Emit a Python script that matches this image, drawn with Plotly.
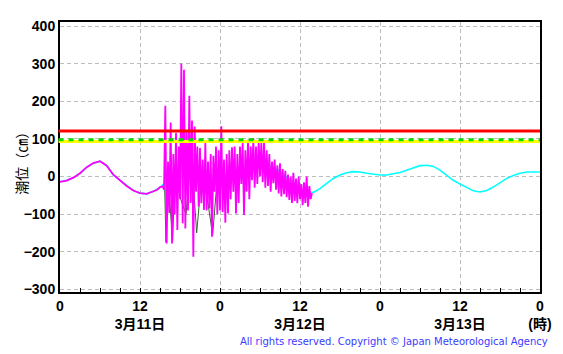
import numpy as np
import plotly.graph_objects as go

# ---- data ----
# predicted (astronomical) tide, hours from 3/11 00:00, cm
tide_hours = list(range(0, 73))
tide_cm = [-14, -10, -3, 8, 24, 35, 41, 30, 4, -10, -25, -37, -44, -46, -40, -29,
           -12, 5, 15, 20, 21, 17, 7, 1, 0, 2, 8, 14, 20, 28, 34, 32, 24, 13, -3,
           -18, -32, -41, -42, -32, -18, -5, 4, 10, 13, 12, 9, 6, 4, 4, 7, 11, 17,
           24, 29, 30, 27, 17, 3, -10, -20, -30, -38, -41, -37, -28, -16, -5, 3, 9,
           12, 12, 12]

# observed before the tsunami arrival
obs_pre_hours = [0, 1, 2, 3, 4, 5, 6, 7, 8, 9, 10, 11, 12, 13, 14, 14.6, 15, 15.4]
obs_pre_cm = [-14, -11, -3, 9, 25, 36, 41, 29, 5, -10, -25, -37, -44, -46, -39, -35, -28, -26]

# observed during tsunami, sampled every 0.2 h from 15.6 h
obs_start, obs_step = 15.6, 0.2
obs_cm = [-35, 188, -178, 40, -97, 144, -178, 60, -100, 116,
          -142, 80, -60, 300, -124, 284, -138, 124, -90, 215,
          -70, 149, -213, 133, -40, 80, -80, 76, -71, 45,
          -89, 89, -90, 40, -85, 60, -160, 55, -40, 80,
          -100, 70, -90, 134, -95, 45, -123, 60, -98, 70,
          -60, 78, -40, 80, -98, 60, -70, 80, -20, 89,
          -102, 70, -40, 98, -60, 80, -10, 102, -30, 80,
          -20, 93, 0, 89, -15, 91, -30, 70, -25, 60,
          -40, 40, -18, 45, -35, 30, -45, 35, -53, 20,
          -47, 15, -55, 5, -62, 0, -70, 10, -65, -5,
          -71, 0, -60, -20, -76, -15, -70, 0, -80, -25,
          -60, -44]

# secondary (dark green) record, partly hidden beneath
sub_hours = [15.7, 15.9, 16.1, 16.5, 16.9, 17.3, 18.1, 18.9, 19.7, 20.5, 21.3, 22.1, 22.9, 23.7, 24.5]
sub_cm = [-30, -175, 20, -90, -170, 40, -60, -100, 60, -150, 10, -60, -155, 20, -40]

# threshold levels (cm)
red_level = 121
green_level = 98
yellow_level = 93

x_tickvals = [0, 12, 24, 36, 48, 60, 72]
x_ticktext = ["0", "12<br>3月11日", "0", "12<br>3月12日", "0", "12<br>3月13日", "0<br>(時)"]
y_tickvals = [-300, -200, -100, 0, 100, 200, 300, 400]

obs_hours = list(obs_pre_hours) + [obs_start + obs_step * i for i in range(len(obs_cm))]
obs_all = list(obs_pre_cm) + list(obs_cm)

fig = go.Figure()
fig.add_trace(go.Scatter(x=sub_hours, y=sub_cm, mode="lines",
                         line=dict(color="#2e6b2e", width=1), hoverinfo="skip"))
fig.add_trace(go.Scatter(x=tide_hours, y=tide_cm, mode="lines",
                         line=dict(color="#00ffff", width=1.6), hoverinfo="skip"))
fig.add_trace(go.Scatter(x=obs_hours, y=obs_all, mode="lines",
                         line=dict(color="#ff00ff", width=1.8), hoverinfo="skip"))

for lvl, col, dash in [(red_level, "#ff0000", "solid"),
                       (yellow_level, "#ffff00", "solid"),
                       (green_level, "#00dd00", "5px,5px")]:
    fig.add_shape(type="line", xref="paper", yref="y", x0=-0.003, x1=1, y0=lvl, y1=lvl,
                  line=dict(color=col, width=3, dash=dash), layer="above")

fig.add_annotation(text="All rights reserved. Copyright © Japan Meteorological Agency",
                   xref="paper", yref="paper", x=1.021, y=-0.1815,
                   xanchor="right", yanchor="middle", showarrow=False,
                   font=dict(family="DejaVu Sans", size=10, color="#3a3aff"))

# y-axis title as rotated annotation
fig.add_annotation(text="潮位（㎝）", xref="paper", yref="paper", x=-0.081, y=0.49,
                   xanchor="center", yanchor="middle", textangle=-90, showarrow=False,
                   font=dict(family="Noto Sans CJK JP", size=14, color="black"))

fig.update_layout(
    width=563, height=354,
    margin=dict(l=60, r=23, t=22, b=62),
    paper_bgcolor="white", plot_bgcolor="white",
    showlegend=False,
    font=dict(family="Liberation Sans, Noto Sans CJK JP", size=14, color="black"),
)
fig.update_xaxes(
    range=[0, 72], tickvals=x_tickvals, ticktext=x_ticktext, automargin=False,
    tickfont=dict(family="Liberation Sans, Noto Sans CJK JP", size=14, color="black", weight="bold"),
    ticks="inside", ticklen=4, tickcolor="black",
    minor=dict(dtick=3, ticks="inside", ticklen=4, tickcolor="black", showgrid=False),
    showgrid=True, gridcolor="#bdbdbd", griddash="4px,3px", gridwidth=1,
    showline=True, linecolor="black", linewidth=2, mirror=True, zeroline=False,
)
fig.update_yaxes(
    range=[-307, 411], tickvals=y_tickvals, automargin=False,
    tickfont=dict(family="Liberation Sans, Noto Sans CJK JP", size=14, color="black", weight="bold"),
    ticks="", showgrid=True, gridcolor="#bdbdbd", griddash="4px,3px", gridwidth=1,
    showline=True, linecolor="black", linewidth=2, mirror=True, zeroline=False,
)

fig.write_html("out.html")
